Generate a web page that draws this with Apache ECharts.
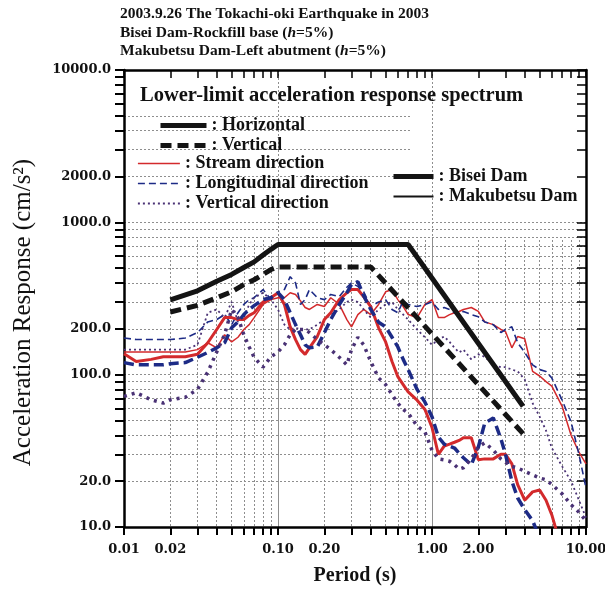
<!DOCTYPE html>
<html>
<head>
<meta charset="utf-8">
<script src="https://cdn.jsdelivr.net/npm/echarts@6/dist/echarts.min.js"></script>
<style>
  html, body { margin: 0; padding: 0; background: #fff; }
  #chart { width: 605px; height: 590px; }
</style>
</head>
<body>
<div id="chart"></div>
<script>
// periods (s) shared by the six measured spectra
var periods = [0.01, 0.012, 0.015, 0.018, 0.02, 0.025, 0.03, 0.035, 0.04, 0.045,
  0.05, 0.055, 0.06, 0.065, 0.07, 0.08, 0.09, 0.1, 0.11, 0.12,
  0.13, 0.14, 0.15, 0.16, 0.18, 0.2, 0.22, 0.25, 0.28, 0.3,
  0.33, 0.36, 0.4, 0.45, 0.5, 0.55, 0.6, 0.65, 0.7, 0.8,
  0.9, 1.0, 1.1, 1.2, 1.3, 1.4, 1.5, 1.6, 1.8, 2.0,
  2.2, 2.5, 2.8, 3.0, 3.3, 3.6, 4.0, 4.5, 5.0, 5.5,
  6.0, 7.0, 8.0, 9.0, 10];

// acceleration response (cm/s2), Bisei Dam (thick lines)
var biseiStream = [137, 122, 126, 131, 131, 131, 136, 162, 198, 237,
  237, 230, 230, 245, 255, 300, 320, 345, 289, 206,
  170, 146, 136, 150, 178, 230, 255, 311, 345, 362,
  362, 325, 280, 203, 164, 122, 97, 86, 77, 68,
  59, 45, 30, 34, 35, 36, 37, 38.5, 38.5, 27.6,
  28, 28, 30, 30, 26, 19, 15, 17, 17.5, 15,
  12, 7, 5, 4, 3.5];
var biseiLong = [120, 116, 116, 116, 118, 120, 130, 140, 150, 162,
  203, 222, 248, 268, 284, 311, 320, 345, 311, 255,
  213, 183, 157, 150, 152, 189, 230, 289, 345, 391,
  408, 330, 268, 221, 206, 176, 152, 126, 108, 80,
  66, 53, 39, 35, 34, 33, 30.5, 28.5, 25.6, 33.5,
  48, 52, 38, 30, 20, 15.5, 13, 11, 8.5, 6.5,
  5, 4, 3.5, 3, 3];
var biseiVert = [72, 76, 68.5, 65, 68.5, 71, 80, 104, 141, 183,
  268, 237, 183, 152, 130, 112, 131, 141, 157, 183,
  198, 198, 198, 189, 170, 157, 146, 130, 116, 146,
  176, 157, 122, 95, 86, 74, 65, 59, 56, 46,
  42, 32, 28, 27.6, 27, 25.6, 24, 24.5, 28, 33.5,
  35.7, 32, 28, 26.6, 25, 24.4, 23.2, 22, 21, 20.4,
  19, 16.5, 14, 12.5, 11];

// Makubetsu Dam (thin lines)
var makuStream = [141, 141, 141, 141, 141, 141, 146, 162, 150, 183,
  164, 176, 198, 213, 237, 289, 311, 320, 320, 345,
  336, 305, 276, 268, 289, 280, 320, 289, 230, 206,
  248, 268, 248, 289, 350, 362, 311, 280, 248, 237,
  289, 311, 237, 237, 248, 255, 260, 268, 276, 260,
  222, 213, 198, 192, 150, 178, 172, 105, 98, 90,
  84, 62, 40, 31, 26];
var makuLong = [174, 170, 170, 170, 170, 174, 189, 222, 230, 248,
  213, 255, 289, 311, 320, 362, 311, 350, 362, 440,
  400, 289, 311, 362, 320, 311, 336, 325, 375, 400,
  380, 350, 280, 300, 311, 268, 255, 305, 289, 280,
  289, 300, 268, 276, 268, 255, 248, 260, 248, 240,
  222, 213, 189, 198, 206, 162, 140, 116, 108, 105,
  95, 68, 49, 30, 18];
var makuVert = [146, 146, 146, 146, 146, 146, 157, 255, 268, 237,
  300, 222, 237, 289, 320, 345, 311, 268, 213, 198,
  203, 198, 198, 198, 213, 230, 248, 268, 300, 311,
  300, 268, 237, 268, 289, 300, 268, 248, 230, 198,
  176, 157, 170, 178, 164, 150, 140, 146, 126, 136,
  131, 116, 112, 112, 108, 105, 93, 65, 53, 43,
  33, 25, 20, 15, 11.5];

// lower-limit acceleration response spectrum
var limitHorizT = [0.02, 0.03, 0.04, 0.05, 0.06, 0.07, 0.08, 0.09, 0.1, 0.7, 3.9];
var limitHorizA = [310, 355, 410, 455, 505, 550, 610, 665, 715, 715, 62];
var limitVertT = [0.02, 0.03, 0.04, 0.05, 0.06, 0.07, 0.08, 0.09, 0.1, 0.4, 3.9];
var limitVertA = [258, 285, 320, 350, 390, 420, 455, 490, 510, 510, 41];

// axis ticks and labels
var xTicks = [0.01, 0.02, 0.03, 0.04, 0.05, 0.06, 0.07, 0.08, 0.09,
  0.1, 0.2, 0.3, 0.4, 0.5, 0.6, 0.7, 0.8, 0.9,
  1, 2, 3, 4, 5, 6, 7, 8, 9, 10];
var xLabels = [0.01, 0.02, 0.1, 0.2, 1, 2, 10];
var yTicks = [10, 20, 30, 40, 50, 60, 70, 80, 90,
  100, 200, 300, 400, 500, 600, 700, 800, 900,
  1000, 2000, 3000, 4000, 5000, 6000, 7000, 8000, 9000, 10000];
var yLabels = [10, 20, 100, 200, 1000, 2000, 10000];
var xMajorGrid = [0.1, 1];
var yLowGrid = yTicks.filter(function (v) { return v <= 1000; });
var yHighGrid = [2000, 3000, 4000, 5000];

var RED = '#d32a2c', BLUE = '#1d2b86', PURPLE = '#4a3275', BLACK = '#141414';
var serif = 'Liberation Serif';
var numFont = 'DejaVu Serif';
var gridLine = { color: '#8e8e8e', width: 1, type: [2, 2] };
var frame = { color: '#000', width: 2.5 };

function lg(v) { return Math.log10(v); }
function pts(xs, ys) { return xs.map(function (x, i) { return [lg(x), lg(ys[i])]; }); }

var plot = { left: 124, top: 70, width: 462, height: 457, outerBoundsMode: 'none' };
function box(extra) { return Object.assign({}, plot, extra || {}); }

// value axes hold log10 of the data so ticks can sit at 2..9 of each decade
function lineAxis(grid, vals, min, max) {
  return {
    type: 'value', gridIndex: grid, min: min, max: max,
    axisLine: { show: false }, axisLabel: { show: false },
    axisTick: { show: false, customValues: vals.map(lg) },
    splitLine: { show: true, lineStyle: gridLine }
  };
}
function hiddenAxis(grid, min, max) {
  return { type: 'value', gridIndex: grid, min: min, max: max, show: false };
}

function line(name, data, color, width, type) {
  return {
    type: 'line', name: name, data: data, xAxisIndex: 0, yAxisIndex: 0,
    symbol: 'none', showSymbol: false, silent: true, animation: false,
    lineStyle: { color: color, width: width, type: type || 'solid' },
    itemStyle: { color: color }
  };
}

var legendText = { fontFamily: serif, fontWeight: 'bold', fontSize: 18, color: '#111', lineHeight: 19 };
function legend(items, left, top, w) {
  return {
    data: items, orient: 'vertical', left: left, top: top, padding: 0,
    itemWidth: w, itemHeight: 12, itemGap: 1, selectedMode: false,
    itemStyle: { opacity: 0 },
    lineStyle: { width: 'inherit', type: 'inherit' },
    formatter: function (n) { return ': ' + n; },
    textStyle: legendText
  };
}

var chart = echarts.init(document.getElementById('chart'));
chart.setOption({
  backgroundColor: '#fff',
  animation: false,
  title: [{
    text: '2003.9.26 The Tokachi-oki Earthquake in 2003\nBisei Dam-Rockfill base ({i|h}=5%)\nMakubetsu Dam-Left abutment ({i|h}=5%)',
    left: 120, top: 5, padding: 0,
    textStyle: {
      fontFamily: serif, fontWeight: 'bold', fontSize: 15.5, lineHeight: 18.5, color: '#111',
      rich: { i: { fontFamily: serif, fontWeight: 'bold', fontStyle: 'italic', fontSize: 15.5, lineHeight: 18.5, color: '#111' } }
    }
  }, {
    text: 'Lower-limit acceleration response spectrum',
    left: 140, top: 85, padding: 0,
    textStyle: { fontFamily: serif, fontWeight: 'bold', fontSize: 20.5, color: '#111' }
  }],
  legend: [
    legend(['Horizontal', 'Vertical'], 158, 116, 46),
    legend(['Stream direction', 'Longitudinal direction', 'Vertical direction'], 137, 154, 42),
    legend(['Bisei Dam', 'Makubetsu Dam'], 391, 167, 40)
  ],
  grid: [
    box(),                          // data + frame
    box({ top: 240, height: 287 }), // minor vertical grid, lower part only
    box(),                          // 0.1 / 1.0 verticals and horizontals up to 1000
    box({ width: 288 })             // upper-left horizontals
  ],
  xAxis: [{
    type: 'value', gridIndex: 0, position: 'bottom', min: -2, max: 1,
    axisLine: { onZero: false, lineStyle: frame },
    axisTick: { customValues: xTicks.map(lg), length: 8, lineStyle: { color: '#000', width: 2 } },
    axisLabel: {
      customValues: xLabels.map(lg), margin: 16,
      formatter: function (v) { return Math.pow(10, v).toFixed(2); },
      fontFamily: numFont, fontWeight: 'bold', fontSize: 13, color: '#111'
    },
    splitLine: { show: false },
    name: 'Period (s)', nameLocation: 'middle', nameGap: 39,
    nameTextStyle: { fontFamily: serif, fontWeight: 'bold', fontSize: 20, color: '#111' }
  }, {
    type: 'value', gridIndex: 0, position: 'top', min: -2, max: 1,
    axisLine: { onZero: false, lineStyle: frame },
    axisTick: { customValues: xTicks.map(lg), inside: true, length: 8, lineStyle: { color: '#000', width: 1.5 } },
    axisLabel: { show: false }, splitLine: { show: false }
  },
    lineAxis(1, xTicks, -2, 1),
    lineAxis(2, xMajorGrid, -2, 1),
    hiddenAxis(3, -2, 1)
  ],
  yAxis: [{
    type: 'value', gridIndex: 0, position: 'left', min: 1, max: 4,
    axisLine: { onZero: false, lineStyle: frame },
    axisTick: { customValues: yTicks.map(lg), length: 9, lineStyle: { color: '#000', width: 2 } },
    axisLabel: {
      customValues: yLabels.map(lg), margin: 13,
      formatter: function (v) { return Math.pow(10, v).toFixed(1); },
      fontFamily: numFont, fontWeight: 'bold', fontSize: 13, color: '#111'
    },
    splitLine: { show: false },
    name: 'Acceleration Response (cm/s\u00b2)', nameLocation: 'middle', nameGap: 88,
    nameTextStyle: { fontFamily: serif, fontSize: 25, color: '#111', padding: [0, 28, 0, 0] }
  }, {
    type: 'value', gridIndex: 0, position: 'right', min: 1, max: 4,
    axisLine: { onZero: false, lineStyle: frame },
    axisTick: { customValues: yTicks.map(lg), inside: true, length: 9, lineStyle: { color: '#000', width: 1.5 } },
    axisLabel: { show: false }, splitLine: { show: false }
  },
    hiddenAxis(1, 1, 4),
    lineAxis(2, yLowGrid, 1, 4),
    lineAxis(3, yHighGrid, 1, 4)
  ],
  series: [
    line('Stream direction', pts(periods, makuStream), RED, 1.5),
    line('Longitudinal direction', pts(periods, makuLong), BLUE, 1.6, [7, 4]),
    line('Vertical direction', pts(periods, makuVert), PURPLE, 1.8, [2, 3]),
    line('Bisei stream', pts(periods, biseiStream), RED, 3),
    line('Bisei longitudinal', pts(periods, biseiLong), BLUE, 3.5, [10, 5]),
    line('Bisei vertical', pts(periods, biseiVert), PURPLE, 3.5, [3, 5]),
    line('Bisei Dam', [], BLACK, 5),
    line('Makubetsu Dam', [], BLACK, 2),
    line('Horizontal', pts(limitHorizT, limitHorizA), BLACK, 5),
    line('Vertical', pts(limitVertT, limitVertA), BLACK, 5, [11, 6])
  ]
});
</script>
</body>
</html>
